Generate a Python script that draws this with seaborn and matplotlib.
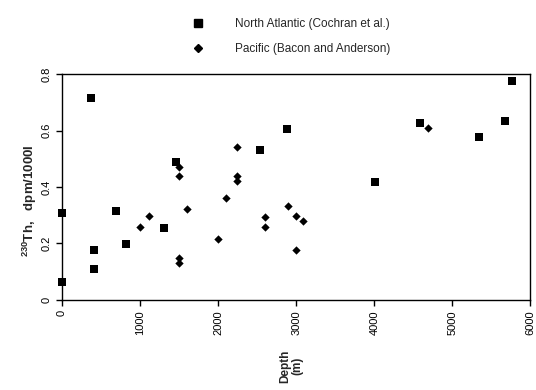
import matplotlib
matplotlib.use("Agg")
import matplotlib.pyplot as plt
import seaborn as sns
import pandas as pd

# North Atlantic (Cochran et al.) - depth (m), 230Th (dpm/1000l)
atl_depth = [0, 0, 370, 408, 408, 690, 815, 1300, 1465, 2530, 2880, 4010, 4590, 5340, 5680, 5760]
atl_th = [0.308, 0.064, 0.715, 0.177, 0.110, 0.315, 0.198, 0.255, 0.490, 0.530, 0.605, 0.418, 0.627, 0.577, 0.634, 0.775]

# Pacific (Bacon and Anderson)
pac_depth = [1000, 1110, 1500, 1500, 1500, 1500, 1600, 2000, 2100, 2245, 2245, 2245,
             2600, 2600, 2890, 2995, 3085, 2995, 4690]
pac_th = [0.260, 0.297, 0.470, 0.440, 0.148, 0.130, 0.322, 0.216, 0.360, 0.540, 0.438, 0.420,
          0.292, 0.260, 0.333, 0.298, 0.280, 0.178, 0.610]

labels = ["North Atlantic (Cochran et al.)", "Pacific (Bacon and Anderson)"]

atl = pd.DataFrame({"depth": atl_depth, "th": atl_th})
pac = pd.DataFrame({"depth": pac_depth, "th": pac_th})

sns.set_style("ticks")
plt.rcParams["font.family"] = ["Liberation Sans", "DejaVu Sans"]
plt.rcParams["mathtext.fontset"] = "custom"
plt.rcParams["mathtext.bf"] = "Liberation Sans:bold"
plt.rcParams["mathtext.rm"] = "Liberation Sans:bold"
plt.rcParams["mathtext.default"] = "bf"

fig = plt.figure(figsize=(5.36, 3.9), dpi=100)
ax = fig.add_axes([0.1157, 0.231, 0.874, 0.579])

sns.scatterplot(data=atl, x="depth", y="th", marker="s", color="black", s=36,
                linewidth=0, clip_on=False, zorder=3, ax=ax)
sns.scatterplot(data=pac, x="depth", y="th", marker="D", color="black", s=18,
                linewidth=0, clip_on=False, zorder=3, ax=ax)

ax.set_xlim(0, 6000)
ax.set_ylim(0, 0.8)
ax.set_xticks([0, 1000, 2000, 3000, 4000, 5000, 6000])
ax.set_yticks([0, 0.2, 0.4, 0.6, 0.8])
ax.set_yticklabels(["0", "0.2", "0.4", "0.6", "0.8"], rotation=90, va="center")
ax.tick_params(axis="x", labelrotation=90, labelsize=8, direction="out", length=4, width=1, colors="black")
ax.tick_params(axis="y", labelsize=8, direction="out", length=4, width=1, colors="black")
for sp in ax.spines.values():
    sp.set_visible(True)
    sp.set_color("black")
    sp.set_linewidth(1)

ax.set_xlabel("Depth\n(m)", rotation=90, fontsize=8.5, fontweight="bold", linespacing=1.0)
ax.xaxis.set_label_coords(0.49, -0.22)
ax.set_ylabel(r"$^{230}$Th,   dpm/1000l", fontsize=9.5, fontweight="bold")
ax.yaxis.set_label_coords(-0.05, 0.44)

# legend at the top of the figure
h1 = plt.Line2D([], [], marker="s", color="black", linestyle="none", markersize=5.5)
h2 = plt.Line2D([], [], marker="D", color="black", linestyle="none", markersize=4)
fig.legend([h1, h2], labels, loc="upper left", bbox_to_anchor=(0.328, 0.98),
           frameon=False, fontsize=8.5, handletextpad=2.1, labelspacing=1.05)

plt.savefig("out.png", dpi=100)
